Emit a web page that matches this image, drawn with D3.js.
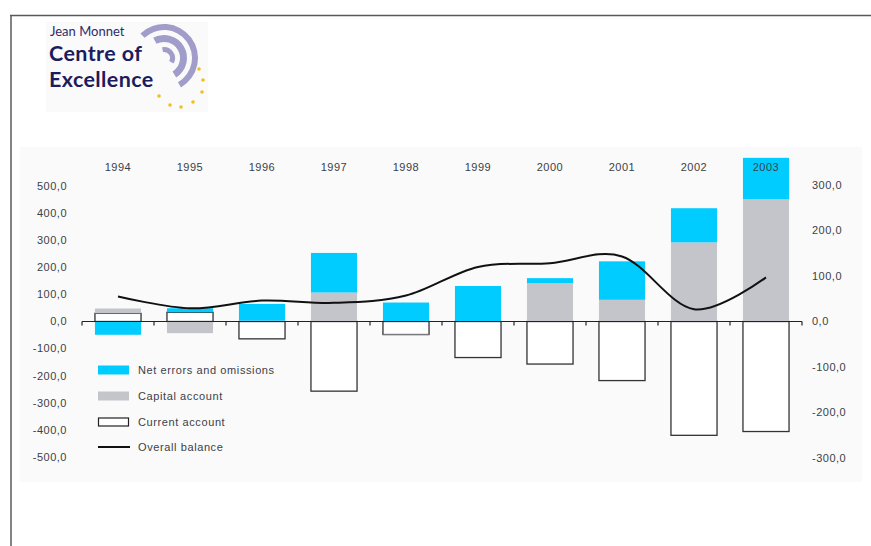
<!DOCTYPE html>
<html>
<head>
<meta charset="utf-8">
<script src="https://cdn.jsdelivr.net/npm/d3@7"></script>
<style>
  html, body { margin: 0; padding: 0; background: #ffffff; }
  svg { display: block; }
  text { font-family: "Liberation Sans", Arial, Helvetica, sans-serif; }
</style>
</head>
<body>
<svg id="chart" width="871" height="546"></svg>
<script>
// ---------------- data ----------------
const years = ["1994","1995","1996","1997","1998","1999","2000","2001","2002","2003"];
const currentAccount = [30, 34, -64, -257, -48, -133, -157, -218, -420, -406];
const capitalAccount = [18, -43, 3, 107, -4, 0, 142, 80, 292, 451];
const netErrors      = [-49, 15, 62, 146, 70, 131, 18, 142, 126, 153];
const overallBalance = [55, 29, 46, 41, 57, 120, 128, 143, 27, 97];
const leftTicks  = [500, 400, 300, 200, 100, 0, -100, -200, -300, -400, -500];
const rightTicks = [300, 200, 100, 0, -100, -200, -300];
const legendLabels = ["Net errors and omissions", "Capital account", "Current account", "Overall balance"];

// ---------------- setup ----------------
const svg = d3.select("#chart");
const textColor = "#3a3f48";
const cyan = "#00ccff";
const grey = "#c3c5cb";

// page frame
svg.append("line").attr("x1", 10).attr("x2", 871).attr("y1", 15.5).attr("y2", 15.5)
  .attr("stroke", "#5a5a5a").attr("stroke-width", 1.5);
svg.append("line").attr("x1", 11).attr("x2", 11).attr("y1", 15).attr("y2", 546)
  .attr("stroke", "#5a5a5a").attr("stroke-width", 1.5);

// ---------------- logo ----------------
const logo = svg.append("g");
logo.append("rect").attr("x", 46).attr("y", 22).attr("width", 162).attr("height", 90).attr("fill", "#fafafa");
const arcGen = d3.arc();
const arcDefs = [
  {inner: 28, outer: 34, start: -44, end: 150},
  {inner: 16, outer: 23, start: -28, end: 148},
  {inner: 6,  outer: 11, start: -10, end: 120}
];
arcDefs.forEach(a => {
  logo.append("path")
    .attr("transform", "translate(164,58)")
    .attr("d", arcGen({innerRadius: a.inner, outerRadius: a.outer,
      startAngle: a.start * Math.PI / 180, endAngle: a.end * Math.PI / 180}))
    .attr("fill", "#a19dcb");
});
const starPts = [[199,69],[203,80],[202,92],[193,102],[181,107],[170,105],[159,96]];
logo.selectAll("circle.star").data(starPts).enter().append("circle")
  .attr("cx", d => d[0]).attr("cy", d => d[1]).attr("r", 1.8).attr("fill", "#f0c020");
logo.append("text").attr("x", 50).attr("y", 36)
  .style("font-family", "Lato, 'Open Sans', sans-serif").style("font-size", "13px")
  .attr("fill", "#2c2c6c").text("Jean Monnet");
logo.append("text").attr("x", 49).attr("y", 61)
  .style("font-family", "Lato, 'Open Sans', sans-serif").style("font-size", "21.5px")
  .style("font-weight", 700).style("letter-spacing", "0.4px")
  .attr("fill", "#1c1c5e").text("Centre of");
logo.append("text").attr("x", 49).attr("y", 87)
  .style("font-family", "Lato, 'Open Sans', sans-serif").style("font-size", "21.5px")
  .style("font-weight", 700).style("letter-spacing", "0.4px")
  .attr("fill", "#1c1c5e").text("Excellence");

// ---------------- chart panel ----------------
svg.append("rect").attr("x", 20).attr("y", 147).attr("width", 842).attr("height", 335)
  .attr("fill", "#fafafa");

const x = d3.scaleBand().domain(years).range([82, 802]).paddingInner(0.36).paddingOuter(0.18);
const yL = d3.scaleLinear().domain([-500, 500]).range([457, 186]);
const yR = d3.scaleLinear().domain([-300, 300]).range([458, 185]);

const fmt = v => d3.format(".1f")(v).replace(".", ",").replace("\u2212", "-");

// left axis labels
svg.append("g").selectAll("text").data(leftTicks).enter().append("text")
  .attr("x", 67).attr("y", d => yL(d)).attr("dy", "0.35em")
  .attr("text-anchor", "end").attr("font-size", 11).attr("letter-spacing", 0.5)
  .attr("fill", textColor).text(fmt);

// right axis labels
svg.append("g").selectAll("text").data(rightTicks).enter().append("text")
  .attr("x", 812).attr("y", d => yR(d)).attr("dy", "0.35em")
  .attr("text-anchor", "start").attr("font-size", 11).attr("letter-spacing", 0.5)
  .attr("fill", textColor).text(fmt);

// stacked data
const rows = years.map((y, i) => ({year: y, current: currentAccount[i], capital: capitalAccount[i], errors: netErrors[i]}));
const keys = ["current", "capital", "errors"];
const series = d3.stack().keys(keys).offset(d3.stackOffsetDiverging)(rows);
const styles = {
  current: {fill: "#ffffff", stroke: "#333333", sw: 1.3},
  capital: {fill: grey, stroke: "none", sw: 0},
  errors:  {fill: cyan, stroke: "none", sw: 0}
};
series.forEach(s => {
  const st = styles[s.key];
  svg.append("g").selectAll("rect").data(s).enter().append("rect")
    .attr("x", d => x(d.data.year))
    .attr("width", x.bandwidth())
    .attr("y", d => yL(Math.max(d[0], d[1])))
    .attr("height", d => Math.abs(yL(d[0]) - yL(d[1])))
    .attr("fill", st.fill)
    .attr("stroke", st.stroke)
    .attr("stroke-width", st.sw);
});

// zero axis line with ticks at band boundaries
const y0 = yL(0);
svg.append("line").attr("x1", x.range()[0]).attr("x2", x.range()[1])
  .attr("y1", y0).attr("y2", y0).attr("stroke", "#222").attr("stroke-width", 1.2);
const boundaries = d3.range(years.length + 1).map(i => x.range()[0] + i * x.step());
svg.append("g").selectAll("line").data(boundaries).enter().append("line")
  .attr("x1", d => d).attr("x2", d => d).attr("y1", y0).attr("y2", y0 + 4)
  .attr("stroke", "#222").attr("stroke-width", 1.2);

// overall balance line (right axis)
const lineGen = d3.line()
  .x((d, i) => x(years[i]) + x.bandwidth() / 2)
  .y(d => yR(d))
  .curve(d3.curveCardinal.tension(0));
svg.append("path").datum(overallBalance).attr("d", lineGen)
  .attr("fill", "none").attr("stroke", "#111").attr("stroke-width", 2);

// year labels
svg.append("g").selectAll("text").data(years).enter().append("text")
  .attr("x", d => x(d) + x.bandwidth() / 2).attr("y", 167).attr("dy", "0.35em")
  .attr("text-anchor", "middle").attr("font-size", 11).attr("letter-spacing", 0.5)
  .attr("fill", textColor).text(d => d);

// legend
const leg = svg.append("g");
const legY = [370, 396, 422, 447];
leg.append("rect").attr("x", 98).attr("y", legY[0] - 4.5).attr("width", 31).attr("height", 9).attr("fill", cyan);
leg.append("rect").attr("x", 98).attr("y", legY[1] - 4.5).attr("width", 31).attr("height", 9).attr("fill", grey);
leg.append("rect").attr("x", 98.5).attr("y", legY[2] - 4).attr("width", 30).attr("height", 8)
  .attr("fill", "#fff").attr("stroke", "#222").attr("stroke-width", 1.2);
leg.append("line").attr("x1", 98).attr("x2", 130).attr("y1", legY[3]).attr("y2", legY[3])
  .attr("stroke", "#111").attr("stroke-width", 2);
leg.selectAll("text").data(legendLabels).enter().append("text")
  .attr("x", 138).attr("y", (d, i) => legY[i]).attr("dy", "0.35em")
  .attr("font-size", 11).attr("letter-spacing", 0.6)
  .attr("fill", textColor).text(d => d);
</script>
</body>
</html>
